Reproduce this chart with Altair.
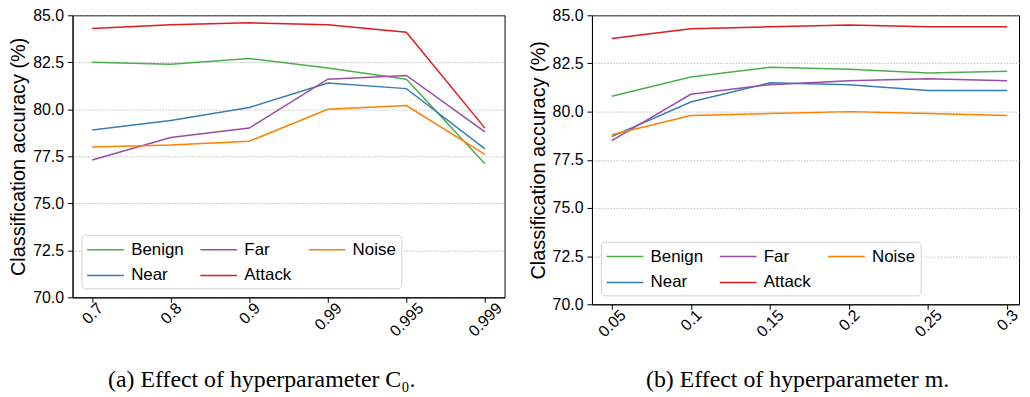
import altair as alt
import pandas as pd

# ---- data ----
series_names = ["Benign", "Near", "Far", "Attack", "Noise"]

x_c0 = ["0.7", "0.8", "0.9", "0.99", "0.995", "0.999"]
benign_c0 = [82.5, 82.4, 82.7, 82.2, 81.6, 77.1]
near_c0 = [78.9, 79.4, 80.1, 81.4, 81.1, 77.9]
far_c0 = [77.3, 78.5, 79.0, 81.6, 81.8, 78.8]
attack_c0 = [84.3, 84.5, 84.6, 84.5, 84.1, 79.0]
noise_c0 = [78.0, 78.1, 78.3, 80.0, 80.2, 77.6]

x_m = ["0.05", "0.1", "0.15", "0.2", "0.25", "0.3"]
benign_m = [80.8, 81.8, 82.3, 82.2, 82.0, 82.1]
near_m = [78.7, 80.5, 81.5, 81.4, 81.1, 81.1]
far_m = [78.5, 80.9, 81.4, 81.6, 81.7, 81.6]
attack_m = [83.8, 84.3, 84.4, 84.5, 84.4, 84.4]
noise_m = [78.8, 79.8, 79.9, 80.0, 79.9, 79.8]

y_ticks = [70.0, 72.5, 75.0, 77.5, 80.0, 82.5, 85.0]

# legend is filled column by column: (Benign, Near) (Far, Attack) (Noise)
legend_order = ["Benign", "Near", "Far", "Attack", "Noise"]
legend_colors = ["#4daf4a", "#377eb8", "#984ea3", "#e41a1c", "#ff7f00"]


def long_df(xs, cols):
    rows = []
    for name, vals in zip(series_names, cols):
        for i, (x, v) in enumerate(zip(xs, vals)):
            rows.append({"x": x, "order": i, "series": name, "acc": v})
    return pd.DataFrame(rows)


df_c0 = long_df(x_c0, [benign_c0, near_c0, far_c0, attack_c0, noise_c0])
df_m = long_df(x_m, [benign_m, near_m, far_m, attack_m, noise_m])


def panel(df, xs, caption, width, height, xpad, xalign, cap_dx, cap_offset):
    return (
        alt.Chart(df)
        .mark_line(strokeWidth=1.5)
        .encode(
            x=alt.X(
                "x:N",
                sort=xs,
                scale=alt.Scale(type="point", padding=xpad, align=xalign),
                axis=alt.Axis(
                    title=None,
                    labelAngle=315,
                    labelAlign="right",
                    labelBaseline="middle",
                    labelOffset=alt.ExprRef("3.15*length(datum.label) - 1.6"),
                    labelPadding=3,
                    labelFontSize=16,
                    grid=False,
                ),
            ),
            y=alt.Y(
                "acc:Q",
                scale=alt.Scale(domain=[70, 85], nice=False, zero=False),
                axis=alt.Axis(
                    title="Classification accuracy (%)",
                    values=y_ticks,
                    format=".1f",
                    labelFontSize=16,
                    titleFontSize=20,
                    titleFontWeight="normal",
                    titlePadding=4,
                    labelPadding=4,
                    grid=True,
                    gridDash=[1.5, 1.5],
                    gridColor="#b0b0b0",
                    gridWidth=0.8,
                ),
            ),
            color=alt.Color(
                "series:N",
                scale=alt.Scale(domain=legend_order, range=legend_colors),
                legend=alt.Legend(
                    title=None,
                    orient="bottom-left",
                    offset=9,
                    columns=3,
                    symbolType="M-1,0H3",
                    symbolSize=342,
                    symbolStrokeWidth=1.5,
                    labelFontSize=17,
                    labelOffset=25,
                    columnPadding=13,
                    rowPadding=8,
                    padding=5,
                    fillColor="white",
                    strokeColor="#d0d0d0",
                    cornerRadius=4,
                ),
            ),
            order="order:Q",
        )
        .properties(
            width=width,
            height=height,
            title=alt.Title(
                caption,
                orient="bottom",
                font="Liberation Serif",
                fontSize=24,
                fontWeight="normal",
                color="black",
                dx=cap_dx,
                offset=cap_offset,
            ),
        )
    )


left = panel(df_c0, x_c0, "(a) Effect of hyperparameter C₀.", 435, 284, 0.25, 0.5, -27, 29)
right = panel(df_m, x_m, "(b) Effect of hyperparameter m.", 430, 291, 0.2, 0.625, -8, 29)

chart = (
    alt.hconcat(left, right, spacing=22)
    .resolve_scale(color="independent")
    .resolve_legend(color="independent")
    .configure(font="Liberation Sans", padding={"left": 0, "top": -3, "right": 0, "bottom": 0})
    .configure_view(stroke="black", strokeWidth=1)
    .configure_axis(
        domainColor="black",
        tickColor="black",
        tickSize=5,
        labelColor="black",
        titleColor="black",
        labelFont="Liberation Sans",
        titleFont="Liberation Sans",
    )
    .configure_legend(labelFont="Liberation Sans", labelColor="black")
)

chart.save("out.html", embed_options={"renderer": "svg", "actions": False})
